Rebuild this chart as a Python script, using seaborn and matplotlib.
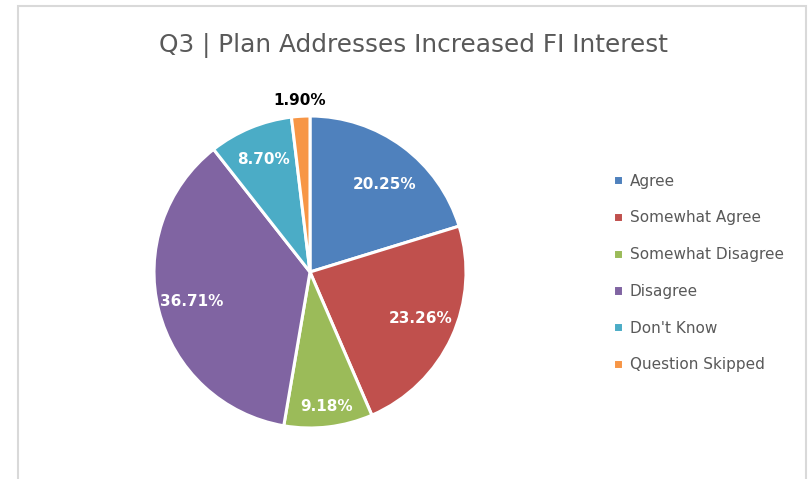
import matplotlib
matplotlib.use("Agg")
import matplotlib.pyplot as plt
from matplotlib.patches import Rectangle
import seaborn as sns

categories = ["Agree", "Somewhat Agree", "Somewhat Disagree", "Disagree", "Don't Know", "Question Skipped"]
shares = [20.25, 23.26, 9.18, 36.71, 8.70, 1.90]
colors = ["#4F81BD", "#C0504D", "#9BBB59", "#8064A2", "#4BACC6", "#F79646"]
title = "Q3 | Plan Addresses Increased FI Interest"

sns.set_theme(style="white")
plt.rcParams["font.family"] = ["DejaVu Sans"]

W, H = 811, 479
fig = plt.figure(figsize=(W / 100, H / 100), dpi=100)

# pie centred at (310, 272) px, radius 156 px
cx, cy, r = 310, 272, 156
ax = fig.add_axes([(cx - r) / W, (H - cy - r) / H, 2 * r / W, 2 * r / H])
wedges, texts, autotexts = ax.pie(
    shares, colors=sns.color_palette(colors), startangle=90, counterclock=False,
    autopct="%.2f%%", pctdistance=0.78,
    wedgeprops=dict(edgecolor="white", linewidth=2.2),
    textprops=dict(color="white", fontsize=11, fontweight="bold"))
ax.set_xlim(-1, 1)
ax.set_ylim(-1, 1)
ax.set_aspect("auto")

# nudge a few labels the way the original places them
autotexts[0].set_position((0.48, 0.56))
x, y = autotexts[1].get_position()
autotexts[1].set_position((x, y + 0.03))
x, y = autotexts[2].get_position()
autotexts[2].set_position((x / 0.78 * 0.87, y / 0.78 * 0.87))
x, y = autotexts[5].get_position()
autotexts[5].set_position((x / 0.78 * 1.1, y / 0.78 * 1.1))
autotexts[5].set_color("black")

fig.text(414 / W, 1 - 45 / H, title, ha="center", va="center", fontsize=17.8, color="#595959")

leg = fig.legend(wedges, categories, loc="upper left", bbox_to_anchor=(599 / W, 1 - 160 / H),
                 frameon=False, fontsize=11, labelcolor="#595959",
                 handlelength=0.65, handleheight=0.65, handletextpad=0.45, labelspacing=1.42)

fig.add_artist(Rectangle((17.5 / W, -0.1), (806 - 17.5) / W, 1.1 - 6 / H,
                         transform=fig.transFigure, fill=False, edgecolor="#D9D9D9", linewidth=1.5))

fig.savefig("out.png", dpi=100)
